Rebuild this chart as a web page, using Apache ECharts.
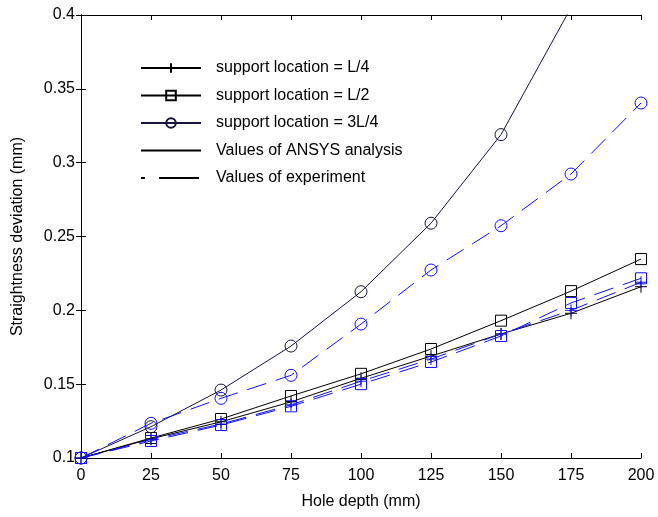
<!DOCTYPE html>
<html>
<head>
<meta charset="utf-8">
<script src="https://cdn.jsdelivr.net/npm/echarts@6/dist/echarts.min.js"></script>
<style>
  html, body { margin: 0; padding: 0; background: #fff; }
  #chart { width: 658px; height: 517px; }
</style>
</head>
<body>
<div id="chart"></div>
<script>
// hole depth (mm)
const depth = [0, 25, 50, 75, 100, 125, 150, 175, 200]
// ANSYS analysis
const ansysL4 = [0.1, 0.113, 0.1245, 0.138, 0.154, 0.169, 0.184, 0.198, 0.216]
const ansysL2 = [0.1, 0.1135, 0.1264, 0.142, 0.157, 0.1738, 0.193, 0.213, 0.2347]
const ansys3L4 = [0.1, 0.1212, 0.146, 0.1758, 0.2126, 0.259, 0.319, 0.405, 0.5]
// experiment
const expL4 = [0.1, 0.1125, 0.123, 0.136, 0.152, 0.167, 0.184, 0.2, 0.219]
const expL2 = [0.1, 0.1115, 0.1223, 0.135, 0.15, 0.165, 0.1826, 0.205, 0.2217]
const exp3L4 = [0.1, 0.1235, 0.1404, 0.156, 0.1907, 0.2273, 0.2573, 0.2923, 0.3404]

const xTicks = [0, 25, 50, 75, 100, 125, 150, 175, 200]
const yTicks = [0.1, 0.15, 0.2, 0.25, 0.3, 0.35, 0.4]

const legendNames = [
  'support location = L/4',
  'support location = L/2',
  'support location = 3L/4',
  'Values of ANSYS analysis',
  'Values of experiment'
]

const FONT = 'Liberation Sans, Arial, Helvetica, sans-serif'
const PLUS = 'path://M5,0L5,10M0,5L10,5'
const DASH = [20, 10]
const BLUE = '#1010ff'

function pairs(ys) {
  return depth.map((d, i) => [d, ys[i]])
}

function makeSeries(name, ys, color, symbol, size, dashed) {
  return {
    name: name,
    type: 'line',
    data: pairs(ys),
    symbol: symbol,
    symbolSize: size,
    clip: true,
    lineStyle: { color: color, width: 1, type: dashed ? DASH : 'solid' },
    itemStyle: { color: 'transparent', borderColor: color, borderWidth: 1 },
    emphasis: { disabled: true },
    z: dashed ? 3 : 2
  }
}

// legend-only series (no data, no marker)
function keySeries(name, dashed) {
  return {
    name: name,
    type: 'line',
    data: [],
    symbol: 'none',
    symbolSize: 0,
    lineStyle: { color: '#000', width: 1, type: dashed ? [4, 14, 40, 4] : 'solid' },
    itemStyle: { color: 'transparent', borderColor: 'transparent', borderWidth: 0 }
  }
}

const chart = echarts.init(document.getElementById('chart'))

const baseX = {
  type: 'value',
  min: xTicks[0],
  max: xTicks[xTicks.length - 1],
  interval: 25,
  splitLine: { show: false },
  axisLine: { lineStyle: { color: '#000', width: 1 } },
  axisTick: { inside: true, length: 5, lineStyle: { color: '#000' } }
}
const baseY = {
  type: 'value',
  min: yTicks[0],
  max: yTicks[yTicks.length - 1],
  interval: 0.05,
  splitLine: { show: false },
  axisLine: { lineStyle: { color: '#000', width: 1 } },
  axisTick: { inside: true, length: 5, lineStyle: { color: '#000' } }
}

const option = {
  animation: false,
  textStyle: { fontFamily: FONT },
  grid: { left: 81, right: 17, top: 15, bottom: 59 },
  legend: {
    data: legendNames,
    orient: 'vertical',
    left: 135,
    top: 55,
    itemWidth: 60,
    itemHeight: 12,
    itemGap: 11.5,
    selectedMode: false,
    textStyle: { fontSize: 16, color: '#000', fontFamily: FONT, padding: [0, 0, 0, 10] }
  },
  xAxis: [
    Object.assign({}, baseX, {
      position: 'bottom',
      name: 'Hole depth (mm)',
      nameLocation: 'middle',
      nameGap: 36,
      nameTextStyle: { fontSize: 16, color: '#000' },
      axisLabel: { fontSize: 16, color: '#000', margin: 10 }
    }),
    Object.assign({}, baseX, { position: 'top', axisLabel: { show: false } })
  ],
  yAxis: [
    Object.assign({}, baseY, {
      position: 'left',
      name: 'Straightness deviation (mm)',
      nameLocation: 'middle',
      nameGap: 55,
      nameTextStyle: { fontSize: 16, color: '#000' },
      axisLabel: { fontSize: 16, color: '#000', margin: 6 }
    }),
    Object.assign({}, baseY, { position: 'right', axisLabel: { show: false } })
  ],
  series: [
    makeSeries(legendNames[0], ansysL4, '#000', PLUS, 12, false),
    makeSeries(legendNames[1], ansysL2, '#000', 'rect', 11, false),
    makeSeries(legendNames[2], ansys3L4, '#14143c', 'circle', 12, false),
    makeSeries('exp L/4', expL4, BLUE, PLUS, 12, true),
    makeSeries('exp L/2', expL2, BLUE, 'rect', 11, true),
    makeSeries('exp 3L/4', exp3L4, BLUE, 'circle', 12, true),
    keySeries(legendNames[3], false),
    keySeries(legendNames[4], true)
  ]
}

chart.setOption(option)
</script>
</body>
</html>
